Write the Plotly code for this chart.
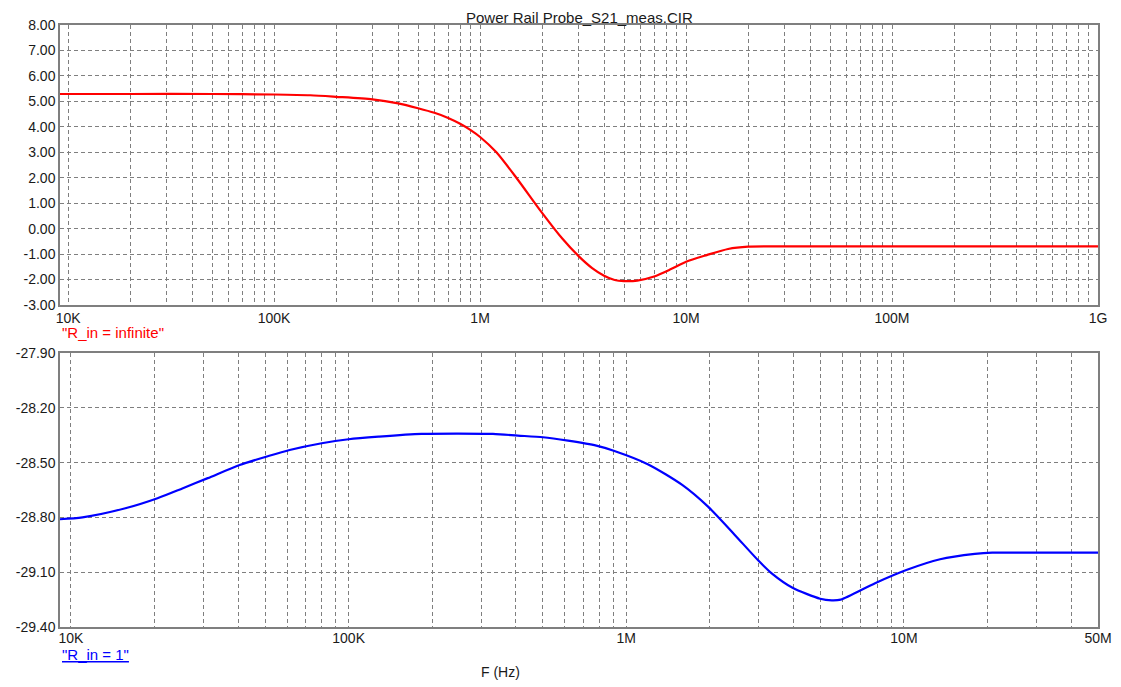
import numpy as np
import plotly.graph_objects as go

# ---- data ----
f_top = [9130, 20e3, 50e3, 100e3, 150e3, 200e3, 300e3, 400e3, 500e3, 600e3, 700e3, 800e3, 900e3,
         1e6, 1.2e6, 1.5e6, 2e6, 2.5e6, 3e6, 3.5e6, 4e6, 4.5e6, 5e6, 5.8e6, 7e6, 8.4e6,
         10e6, 12.6e6, 16e6, 20e6, 30e6, 100e6, 1e9]
v_top = [5.29, 5.29, 5.29, 5.27, 5.24, 5.18, 5.08, 4.92, 4.73, 4.55, 4.35, 4.12, 3.87,
         3.60, 3.00, 2.00, 0.62, -0.38, -1.07, -1.55, -1.85, -2.02, -2.06, -2.04, -1.88, -1.60,
         -1.30, -1.04, -0.80, -0.71, -0.70, -0.70, -0.70]

f_bot = [9130, 11e3, 15.7e3, 20.5e3, 25.3e3, 31.1e3, 40.5e3, 51.4e3, 61.3e3, 80e3, 100e3, 128e3,
         183e3, 331e3, 407e3, 501e3, 617e3, 780e3, 901e3, 1.2e6, 1.59e6, 1.97e6, 2.45e6,
         2.99e6, 3.34e6, 3.97e6, 4.99e6, 5.5e6, 5.92e6, 7.87e6, 10.2e6, 13.5e6, 18e6, 20.8e6,
         30e6, 50e6]
v_bot = [-28.81, -28.80, -28.75, -28.695, -28.64, -28.585, -28.513, -28.464, -28.431, -28.394,
         -28.372, -28.358, -28.343, -28.343, -28.352, -28.361, -28.38, -28.407, -28.435, -28.51,
         -28.622, -28.741, -28.893, -29.036, -29.106, -29.185, -29.245, -29.254, -29.25, -29.16,
         -29.088, -29.029, -29.0, -28.993, -28.993, -28.993]

top_xticks = [1e4, 1e5, 1e6, 1e7, 1e8, 1e9]
top_xlabels = ["10K", "100K", "1M", "10M", "100M", "1G"]
bot_xticks = [1e4, 1e5, 1e6, 1e7, 5e7]
bot_xlabels = ["10K", "100K", "1M", "10M", "50M"]
top_yticks = [-3, -2, -1, 0, 1, 2, 3, 4, 5, 6, 7, 8]
bot_yticks = [-29.4, -29.1, -28.8, -28.5, -28.2, -27.9]

title_text = "Power Rail Probe_S21_meas.CIR"
top_name = '"R_in = infinite"'
bot_name = '"R_in = 1"'
x_title = "F (Hz)"

# ---- helpers ----
def minor_vals(lo, hi):
    vals = []
    for d in range(3, 10):
        for m in range(2, 10):
            v = m * 10 ** d
            if lo < v < hi:
                vals.append(v)
    return vals

GRID = "#7f7f7f"
FONT = "Arial, Liberation Sans, sans-serif"
xmin = 9130

fig = go.Figure()
fig.add_trace(go.Scatter(x=f_top, y=v_top, mode="lines", xaxis="x", yaxis="y",
                         line=dict(color="#ff0000", width=2.2, shape="spline", smoothing=0.7),
                         showlegend=False))
fig.add_trace(go.Scatter(x=f_bot, y=v_bot, mode="lines", xaxis="x2", yaxis="y2",
                         line=dict(color="#0000ff", width=2.2, shape="spline", smoothing=0.7),
                         showlegend=False))

common_x = dict(type="log", showline=True, linecolor=GRID, linewidth=1.5, mirror=True,
                showgrid=True, gridcolor=GRID, griddash="4px,3px", gridwidth=1, automargin=False,
                ticks="", zeroline=False, tickfont=dict(family=FONT, size=14, color="#1a1a1a"))
common_y = dict(showline=True, linecolor=GRID, linewidth=1.5, mirror=True, automargin=False,
                showgrid=True, gridcolor=GRID, griddash="4px,3px", gridwidth=1,
                ticks="", zeroline=False, tickfont=dict(family=FONT, size=14, color="#1a1a1a"))

# page body has an 8px margin: the figure is sized/offset to compensate
fig.update_layout(
    width=1105, height=677,
    margin=dict(l=52, r=15, t=17, b=58, autoexpand=False),
    paper_bgcolor="white", plot_bgcolor="white",
    font=dict(family=FONT, size=14, color="#1a1a1a"),
    xaxis=dict(common_x, domain=[0, 1], anchor="y",
               range=[np.log10(xmin), 9],
               tickvals=top_xticks, ticktext=top_xlabels, ticklabelstandoff=-1,
               minor=dict(tickvals=minor_vals(xmin, 1e9), showgrid=True,
                          gridcolor=GRID, griddash="4px,3px", gridwidth=1, ticks="")),
    yaxis=dict(common_y, domain=[0.5349, 1], anchor="x", range=[-3, 8],
               tickvals=top_yticks, ticktext=["%.2f" % v for v in top_yticks]),
    xaxis2=dict(common_x, domain=[0, 1], anchor="y2",
                range=[np.log10(xmin), np.log10(5e7)],
                tickvals=bot_xticks, ticktext=bot_xlabels, ticklabelstandoff=-3,
                minor=dict(tickvals=minor_vals(xmin, 5e7), showgrid=True,
                           gridcolor=GRID, griddash="4px,3px", gridwidth=1, ticks="")),
    yaxis2=dict(common_y, domain=[0, 0.4551], anchor="x2", range=[-29.4, -27.9],
                tickvals=bot_yticks, ticktext=["%.2f" % v for v in bot_yticks]),
    annotations=[
        dict(text=title_text, xref="paper", yref="paper", x=0.5, y=1.0, yshift=8,
             xanchor="center", yanchor="middle", showarrow=False,
             font=dict(family=FONT, size=15, color="#1a1a1a")),
        dict(text=top_name, xref="paper", yref="paper", x=0, y=0.4884,
             xanchor="left", yanchor="middle", showarrow=False,
             font=dict(family=FONT, size=15, color="#ff0000")),
        dict(text="<u>" + bot_name + "</u>", xref="paper", yref="paper", x=0, y=-0.0449,
             xanchor="left", yanchor="middle", showarrow=False,
             font=dict(family=FONT, size=15, color="#0000ff")),
        dict(text=x_title, xref="paper", yref="paper", x=0.4239, y=-0.0748,
             xanchor="center", yanchor="middle", showarrow=False,
             font=dict(family=FONT, size=14, color="#1a1a1a")),
    ],
)

fig.write_html("out.html")
